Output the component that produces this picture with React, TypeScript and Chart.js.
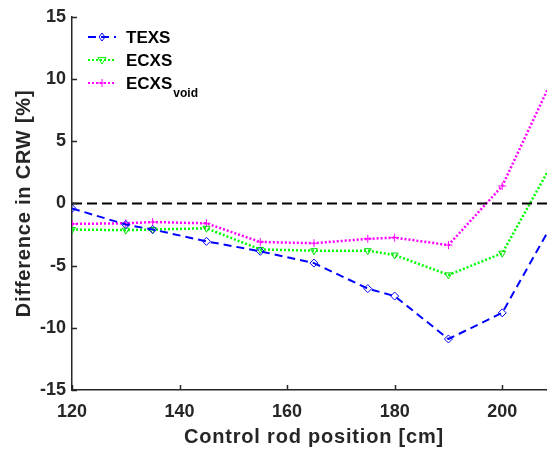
import React, { useEffect, useRef } from "react";
import { Chart, registerables } from "chart.js";
Chart.register(...registerables);

const positions = [120, 130, 135, 145, 155, 165, 175, 180, 190, 200, 210];
const texs = [-0.4, -1.7, -2.1, -3.05, -3.85, -4.8, -6.85, -7.45, -10.9, -8.8, -1.1];
const ecxs = [-2.1, -2.15, -2.1, -2.0, -3.7, -3.8, -3.8, -4.15, -5.75, -4.0, 3.75];
const ecxsVoid = [-1.65, -1.6, -1.5, -1.6, -3.1, -3.2, -2.85, -2.75, -3.35, 1.4, 10.6];
const xTicks = [120, 140, 160, 180, 200];
const yTicks = [-15, -10, -5, 0, 5, 10, 15];
const xRange = [120, 210];
const yRange = [-15, 15];
const xTitle = "Control rod position [cm]";
const yTitle = "Difference in CRW [%]";

const FONT = '"Liberation Sans", Arial, Helvetica, sans-serif';
const AXIS = "#262626";

const toXY = (ys: number[]) => positions.map((x, i) => ({ x, y: ys[i] }));

const legendItems = [
  { label: "TEXS", sub: "", color: "#0000FF", dash: [8, 5], style: "rectRot" },
  { label: "ECXS", sub: "", color: "#00FF00", dash: [2, 2], style: "triangle" },
  { label: "ECXS", sub: "void", color: "#FF00FF", dash: [2, 2], style: "cross" },
];

function drawMarker(ctx: any, style: string, x: number, y: number, color: string) {
  ctx.save();
  ctx.strokeStyle = color;
  ctx.lineWidth = 1;
  ctx.setLineDash([]);
  ctx.beginPath();
  const r = 4;
  if (style === "rectRot") {
    ctx.moveTo(x, y - r);
    ctx.lineTo(x + r * 0.75, y);
    ctx.lineTo(x, y + r);
    ctx.lineTo(x - r * 0.75, y);
    ctx.closePath();
  } else if (style === "triangle") {
    ctx.moveTo(x - r, y - r * 0.6);
    ctx.lineTo(x + r, y - r * 0.6);
    ctx.lineTo(x, y + r);
    ctx.closePath();
  } else {
    ctx.moveTo(x - r, y);
    ctx.lineTo(x + r, y);
    ctx.moveTo(x, y - r);
    ctx.lineTo(x, y + r);
  }
  ctx.stroke();
  ctx.restore();
}

const innerTicks = {
  id: "innerTicks",
  afterDatasetsDraw(chart: any) {
    const { ctx, chartArea, scales } = chart;
    ctx.save();
    ctx.strokeStyle = AXIS;
    ctx.lineWidth = 1.5;
    ctx.beginPath();
    for (const t of xTicks) {
      const px = Math.round(scales.x.getPixelForValue(t)) + 0.5;
      ctx.moveTo(px, chartArea.bottom);
      ctx.lineTo(px, chartArea.bottom - 5);
    }
    for (const t of yTicks) {
      const py = Math.round(scales.y.getPixelForValue(t)) + 0.5;
      ctx.moveTo(chartArea.left, py);
      ctx.lineTo(chartArea.left + 5, py);
    }
    ctx.stroke();
    ctx.restore();
  },
};

const titlesAndLegend = {
  id: "titlesAndLegend",
  afterDraw(chart: any) {
    const { ctx, chartArea } = chart;
    ctx.save();
    ctx.fillStyle = AXIS;
    ctx.font = `bold 20px ${FONT}`;
    (ctx as any).letterSpacing = "0.8px";
    ctx.textAlign = "center";
    ctx.textBaseline = "alphabetic";
    ctx.fillText(xTitle, (chartArea.left + chartArea.right) / 2, 443);
    ctx.save();
    ctx.translate(30, (chartArea.top + chartArea.bottom) / 2);
    ctx.rotate(-Math.PI / 2);
    ctx.fillText(yTitle, 0, 0);
    ctx.restore();
    (ctx as any).letterSpacing = "0px";

    const x0 = 88, x1 = 116, tx = 126;
    const ys = [37, 60, 83];
    legendItems.forEach((it, i) => {
      const y = ys[i];
      ctx.strokeStyle = it.color;
      ctx.lineWidth = 2;
      ctx.setLineDash(it.dash);
      ctx.beginPath();
      ctx.moveTo(x0, y);
      ctx.lineTo(x1, y);
      ctx.stroke();
      ctx.setLineDash([]);
      drawMarker(ctx, it.style, (x0 + x1) / 2, y, it.color);
      ctx.fillStyle = "#000";
      ctx.font = `bold 17px ${FONT}`;
      ctx.textAlign = "left";
      ctx.textBaseline = "alphabetic";
      ctx.fillText(it.label, tx, y + 6);
      if (it.sub) {
        const w = ctx.measureText(it.label).width;
        ctx.font = `bold 12px ${FONT}`;
        ctx.fillText(it.sub, tx + w + 1, y + 14);
      }
    });
    ctx.restore();
  },
};

export default function App() {
  const ref = useRef<HTMLCanvasElement | null>(null);
  useEffect(() => {
    if (!ref.current) return;
    const chart = new Chart(ref.current, {
      type: "line",
      data: {
        datasets: [
          {
            label: "zero",
            data: [{ x: xRange[0], y: 0 }, { x: xRange[1], y: 0 }],
            borderColor: "#000000",
            borderWidth: 2,
            borderDash: [10, 5],
            pointRadius: 0,
          },
          {
            label: "TEXS",
            data: toXY(texs),
            borderColor: "#0000FF",
            borderWidth: 2,
            borderDash: [8, 5],
            pointStyle: "rectRot",
            pointRadius: 4,
            pointBorderWidth: 1,
            pointBorderColor: "#0000FF",
            pointBackgroundColor: "rgba(0,0,0,0)",
          },
          {
            label: "ECXS",
            data: toXY(ecxs),
            borderColor: "#00FF00",
            borderWidth: 2.5,
            borderDash: [2, 2],
            pointStyle: "triangle",
            rotation: 180,
            pointRadius: 4,
            pointBorderWidth: 1,
            pointBorderColor: "#00DD00",
            pointBackgroundColor: "rgba(0,0,0,0)",
          },
          {
            label: "ECXSvoid",
            data: toXY(ecxsVoid),
            borderColor: "#FF00FF",
            borderWidth: 2.5,
            borderDash: [2, 2],
            pointStyle: "cross",
            pointRadius: 4,
            pointBorderWidth: 1,
            pointBorderColor: "#FF00FF",
            pointBackgroundColor: "rgba(0,0,0,0)",
          },
        ],
      },
      options: {
        animation: false,
        responsive: false,
        maintainAspectRatio: false,
        layout: { padding: { top: 15, right: 1, left: 0, bottom: 0 } },
        plugins: { legend: { display: false }, tooltip: { enabled: false } },
        elements: { line: { tension: 0 } },
        scales: {
          x: {
            type: "linear",
            min: xRange[0],
            max: xRange[1],
            afterBuildTicks: (s: any) => {
              s.ticks = xTicks.map((v) => ({ value: v }));
            },
            afterFit: (s: any) => {
              s.height = 60;
            },
            grid: { display: false, drawTicks: false },
            border: { display: true, color: AXIS, width: 1.5 },
            ticks: {
              color: AXIS,
              font: { family: FONT, size: 18, weight: "bold" },
              padding: 11,
              maxRotation: 0,
              autoSkip: false,
            },
            title: { display: false },
          },
          y: {
            type: "linear",
            min: yRange[0],
            max: yRange[1],
            afterBuildTicks: (s: any) => {
              s.ticks = yTicks.map((v) => ({ value: v }));
            },
            afterFit: (s: any) => {
              s.width = 72;
            },
            grid: { display: false, drawTicks: false },
            border: { display: true, color: AXIS, width: 1.5 },
            ticks: {
              color: AXIS,
              font: { family: FONT, size: 18, weight: "bold" },
              padding: 6,
              autoSkip: false,
            },
            title: { display: false },
          },
        },
      },
      plugins: [innerTicks, titlesAndLegend],
    } as any);
    return () => chart.destroy();
  }, []);
  return (
    <div style={{ position: "fixed", left: 0, top: 0, width: 547, height: 450, overflow: "hidden", background: "#fff" }}>
      <canvas ref={ref} width={561} height={450} style={{ display: "block" }} />
    </div>
  );
}
